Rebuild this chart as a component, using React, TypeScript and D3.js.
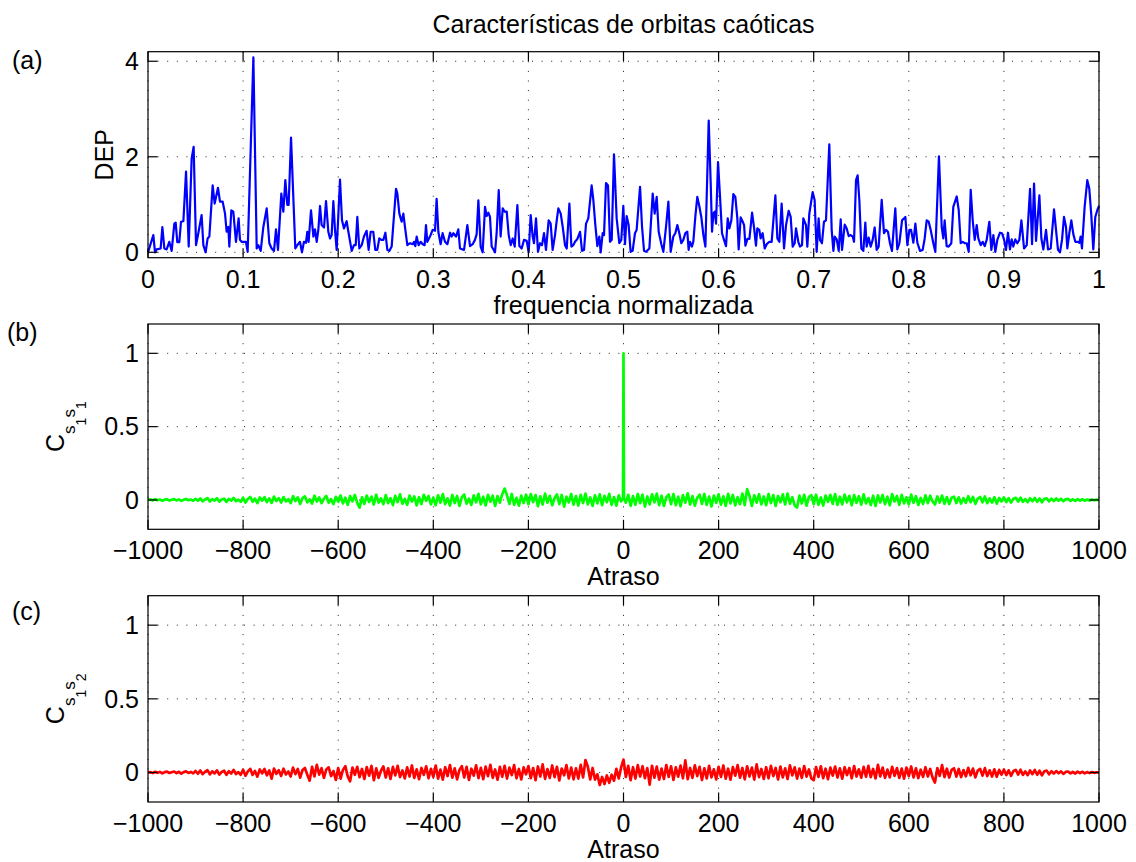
import React from 'react';
import * as d3 from 'd3';

const FONT = '"Liberation Sans", Arial, Helvetica, sans-serif';

// (a) Power spectral density: [normalized frequency, DEP]
const SPECTRUM: [number, number][] = [
  [0.0000, 0.00], [0.0056, 0.36], [0.0074, 0.00], [0.0091, 0.06], [0.0133, 0.08], [0.0151, 0.53], [0.0172, 0.08], [0.0196, 0.06], [0.0224, 0.22], [0.0249, 0.03],
  [0.0277, 0.60], [0.0291, 0.62], [0.0308, 0.21], [0.0329, 0.21], [0.0347, 0.64], [0.0372, 0.65], [0.0400, 1.69], [0.0428, 0.12], [0.0459, 1.96], [0.0480, 2.21],
  [0.0505, 0.15], [0.0529, 0.40], [0.0564, 0.78], [0.0582, 0.15], [0.0606, 0.00], [0.0627, 0.29], [0.0645, 0.33], [0.0680, 1.40], [0.0701, 1.02], [0.0736, 1.35],
  [0.0757, 1.06], [0.0785, 1.06], [0.0810, 0.81], [0.0827, 0.43], [0.0845, 0.53], [0.0855, 0.12], [0.0876, 0.88], [0.0897, 0.85], [0.0925, 0.22], [0.0953, 0.71],
  [0.0967, 0.26], [0.0985, 0.22], [0.1030, 0.22], [0.1048, 0.01], [0.1108, 4.08], [0.1143, 0.08], [0.1160, 0.15], [0.1185, 0.03], [0.1213, 0.53], [0.1248, 0.92],
  [0.1276, 0.19], [0.1300, 0.08], [0.1325, 0.03], [0.1346, 0.48], [0.1367, 0.05], [0.1402, 1.23], [0.1423, 0.85], [0.1444, 1.51], [0.1465, 0.99], [0.1479, 0.99],
  [0.1504, 2.40], [0.1549, 0.08], [0.1570, 0.15], [0.1598, 0.22], [0.1619, 0.00], [0.1640, 0.22], [0.1661, 0.20], [0.1675, 0.43], [0.1689, 0.22], [0.1714, 0.88],
  [0.1739, 0.33], [0.1756, 0.48], [0.1774, 0.22], [0.1791, 0.47], [0.1809, 0.97], [0.1826, 0.57], [0.1851, 0.52], [0.1872, 1.07], [0.1896, 0.43], [0.1914, 0.29],
  [0.1931, 0.36], [0.1949, 1.07], [0.1966, 0.48], [0.1984, 0.05], [0.2019, 1.52], [0.2040, 0.67], [0.2061, 0.50], [0.2089, 0.65], [0.2107, 0.43], [0.2142, 0.03],
  [0.2166, 0.15], [0.2184, 0.15], [0.2201, 0.74], [0.2222, 0.08], [0.2247, 0.15], [0.2271, 0.33], [0.2299, 0.45], [0.2320, 0.05], [0.2341, 0.43], [0.2369, 0.43],
  [0.2390, 0.05], [0.2411, 0.05], [0.2432, 0.29], [0.2454, 0.26], [0.2475, 0.26], [0.2496, 0.41], [0.2517, 0.05], [0.2538, 0.03], [0.2562, 0.12], [0.2608, 1.33],
  [0.2622, 1.23], [0.2643, 0.81], [0.2667, 0.64], [0.2685, 0.81], [0.2702, 0.53], [0.2727, 0.15], [0.2755, 0.19], [0.2783, 0.17], [0.2797, 0.22], [0.2811, 0.13],
  [0.2825, 0.33], [0.2846, 0.15], [0.2867, 0.22], [0.2888, 0.17], [0.2909, 0.15], [0.2923, 0.57], [0.2937, 0.22], [0.2965, 0.33], [0.2993, 0.47], [0.3018, 0.45],
  [0.3035, 1.12], [0.3053, 0.43], [0.3077, 0.17], [0.3098, 0.40], [0.3123, 0.22], [0.3148, 0.17], [0.3176, 0.41], [0.3193, 0.33], [0.3211, 0.40], [0.3239, 0.33],
  [0.3263, 0.48], [0.3281, 0.08], [0.3323, 0.05], [0.3358, 0.57], [0.3386, 0.13], [0.3414, 0.17], [0.3438, 0.26], [0.3456, 0.38], [0.3474, 1.09], [0.3498, 0.12],
  [0.3519, 0.00], [0.3544, 0.95], [0.3561, 0.76], [0.3579, 0.83], [0.3596, 0.74], [0.3614, 0.12], [0.3649, 0.00], [0.3666, 0.40], [0.3688, 1.30], [0.3708, 0.33],
  [0.3730, 0.92], [0.3751, 0.85], [0.3772, 0.85], [0.3793, 0.36], [0.3814, 0.15], [0.3835, 0.29], [0.3856, 0.12], [0.3884, 0.99], [0.3905, 0.13], [0.3929, 0.08],
  [0.3954, 0.26], [0.3982, 0.24], [0.4003, 0.00], [0.4024, 0.78], [0.4045, 0.33], [0.4059, 0.19], [0.4080, 0.71], [0.4101, 0.01], [0.4122, 0.19], [0.4143, 0.15],
  [0.4164, 0.40], [0.4185, 0.05], [0.4213, 0.67], [0.4234, 0.60], [0.4255, 0.05], [0.4280, 0.36], [0.4298, 0.67], [0.4315, 0.92], [0.4340, 0.81], [0.4361, 0.53],
  [0.4385, 0.15], [0.4403, 0.08], [0.4431, 1.02], [0.4452, 0.12], [0.4473, 0.15], [0.4490, 0.22], [0.4515, 0.28], [0.4543, 0.43], [0.4564, 0.03], [0.4585, 0.05],
  [0.4606, 0.60], [0.4630, 0.71], [0.4665, 1.40], [0.4683, 1.09], [0.4704, 0.57], [0.4725, 0.13], [0.4746, 0.33], [0.4760, 0.00], [0.4781, 0.40], [0.4795, 0.36],
  [0.4816, 1.45], [0.4837, 1.40], [0.4858, 0.22], [0.4876, 0.26], [0.4900, 2.05], [0.4928, 0.71], [0.4956, 0.19], [0.4977, 0.26], [0.4998, 0.97], [0.5016, 0.17],
  [0.5033, 0.76], [0.5054, 0.57], [0.5075, 0.01], [0.5096, 0.03], [0.5121, 0.40], [0.5138, 0.47], [0.5174, 1.37], [0.5195, 0.53], [0.5216, 0.03], [0.5237, 0.01],
  [0.5272, 0.08], [0.5307, 1.23], [0.5328, 0.81], [0.5349, 1.16], [0.5370, 0.43], [0.5398, 0.17], [0.5419, 0.01], [0.5447, 0.53], [0.5472, 1.06], [0.5496, 0.01],
  [0.5524, 0.33], [0.5545, 0.40], [0.5566, 0.57], [0.5587, 0.40], [0.5608, 0.19], [0.5629, 0.26], [0.5650, 0.40], [0.5671, 0.43], [0.5685, 0.05], [0.5699, 0.22],
  [0.5720, 0.12], [0.5734, 0.22], [0.5755, 0.74], [0.5776, 1.16], [0.5797, 0.97], [0.5818, 0.74], [0.5840, 0.36], [0.5861, 0.12], [0.5896, 2.76], [0.5917, 1.44],
  [0.5931, 0.43], [0.5945, 0.81], [0.5959, 0.85], [0.5973, 0.60], [0.5994, 1.89], [0.6015, 1.16], [0.6036, 0.40], [0.6057, 0.26], [0.6078, 0.13], [0.6096, 0.71],
  [0.6113, 0.50], [0.6134, 0.67], [0.6155, 1.22], [0.6176, 1.16], [0.6197, 0.71], [0.6211, 0.06], [0.6232, 0.73], [0.6254, 0.64], [0.6268, 0.57], [0.6282, 0.14],
  [0.6303, 0.28], [0.6324, 0.28], [0.6352, 0.83], [0.6372, 0.53], [0.6393, 0.14], [0.6407, 0.50], [0.6428, 0.47], [0.6442, 0.29], [0.6463, 0.40], [0.6485, 0.08],
  [0.6506, 0.17], [0.6534, 0.22], [0.6558, 0.22], [0.6597, 1.19], [0.6618, 0.29], [0.6639, 0.22], [0.6663, 1.02], [0.6688, 0.08], [0.6709, 0.57], [0.6737, 0.87],
  [0.6758, 0.74], [0.6779, 0.12], [0.6800, 0.19], [0.6814, 0.50], [0.6838, 0.22], [0.6856, 0.12], [0.6877, 0.15], [0.6891, 0.71], [0.6919, 0.57], [0.6933, 0.12],
  [0.6954, 0.81], [0.6989, 1.26], [0.7010, 1.09], [0.7031, 0.01], [0.7052, 0.71], [0.7066, 0.26], [0.7087, 0.19], [0.7108, 0.64], [0.7129, 0.67], [0.7164, 2.26],
  [0.7189, 0.47], [0.7207, 0.03], [0.7221, 0.33], [0.7242, 0.27], [0.7263, 0.03], [0.7284, 0.69], [0.7298, 0.05], [0.7326, 0.58], [0.7347, 0.50], [0.7368, 0.34],
  [0.7389, 0.36], [0.7410, 0.33], [0.7424, 0.22], [0.7445, 1.51], [0.7462, 1.61], [0.7480, 1.09], [0.7501, 0.08], [0.7522, 0.03], [0.7543, 0.62], [0.7557, 0.12],
  [0.7578, 0.31], [0.7599, 0.12], [0.7620, 0.26], [0.7641, 0.52], [0.7662, 0.05], [0.7683, 0.12], [0.7715, 1.10], [0.7739, 0.40], [0.7760, 0.47], [0.7781, 0.43],
  [0.7802, 0.19], [0.7823, 0.03], [0.7858, 0.92], [0.7879, 0.06], [0.7901, 0.19], [0.7929, 0.67], [0.7950, 0.71], [0.7964, 0.74], [0.7985, 0.15], [0.8006, 0.47],
  [0.8024, 0.47], [0.8048, 0.20], [0.8069, 0.60], [0.8090, 0.20], [0.8118, 0.03], [0.8146, 0.05], [0.8167, 0.29], [0.8188, 0.67], [0.8209, 0.64], [0.8230, 0.47],
  [0.8258, 0.19], [0.8279, 0.01], [0.8317, 2.01], [0.8346, 0.53], [0.8363, 0.29], [0.8377, 0.67], [0.8398, 0.13], [0.8419, 0.12], [0.8447, 0.19], [0.8468, 0.95],
  [0.8504, 1.17], [0.8525, 0.88], [0.8546, 0.19], [0.8567, 0.22], [0.8588, 0.19], [0.8609, 0.19], [0.8630, 0.01], [0.8651, 1.31], [0.8672, 0.67], [0.8693, 0.26],
  [0.8714, 0.57], [0.8731, 0.29], [0.8756, 0.15], [0.8777, 0.22], [0.8798, 0.13], [0.8819, 0.26], [0.8847, 0.64], [0.8868, 0.05], [0.8889, 0.36], [0.8910, 0.01],
  [0.8931, 0.26], [0.8959, 0.41], [0.8980, 0.40], [0.9001, 0.27], [0.9022, 0.05], [0.9043, 0.41], [0.9064, 0.06], [0.9082, 0.27], [0.9099, 0.12], [0.9120, 0.27],
  [0.9141, 0.19], [0.9162, 0.26], [0.9184, 0.67], [0.9212, 0.08], [0.9240, 0.15], [0.9275, 1.33], [0.9296, 0.17], [0.9317, 1.44], [0.9338, 0.24], [0.9373, 1.19],
  [0.9394, 0.29], [0.9415, 0.06], [0.9443, 0.47], [0.9464, 0.06], [0.9492, 0.08], [0.9527, 0.90], [0.9548, 0.47], [0.9569, 0.05], [0.9590, 0.00], [0.9611, 0.26],
  [0.9632, 0.74], [0.9653, 0.53], [0.9667, 0.08], [0.9688, 0.40], [0.9709, 0.67], [0.9730, 0.38], [0.9751, 0.22], [0.9772, 0.22], [0.9793, 0.20], [0.9807, 0.33],
  [0.9821, 0.08], [0.9849, 0.95], [0.9877, 1.51], [0.9898, 1.33], [0.9919, 0.78], [0.9940, 0.06], [0.9961, 0.74], [0.9982, 0.88], [1.0000, 0.97],
];

const FREQ_TICKS = [0, 0.1, 0.2, 0.3, 0.4, 0.5, 0.6, 0.7, 0.8, 0.9, 1];
const DEP_TICKS = [0, 2, 4];

// (b), (c) correlation sequences sampled every LAG_STEP lags from LAG_START
const LAG_START = -1000;
const LAG_STEP = 5;

const ACF_S1S1 = [
  0.000, 0.004, -0.003, 0.006, -0.002, 0.003, -0.005, 0.002, 0.005, -0.004, 0.001, 0.006, -0.003, 0.004, -0.006, 0.002, 0.007, -0.002, 0.003, -0.005,
  0.008, -0.006, 0.011, -0.009, 0.004, 0.013, -0.010, 0.006, -0.004, 0.012, -0.011, 0.003, 0.009, -0.013, 0.007, -0.005, 0.014, -0.008, 0.002, -0.012,
  0.015, -0.018, 0.006, 0.021, -0.012, 0.009, -0.022, 0.017, -0.004, 0.019, -0.015, 0.011, -0.020, 0.023, -0.007, 0.012, -0.017, 0.020, -0.010, 0.005,
  -0.021, 0.026, -0.008, 0.018, -0.027, 0.013, 0.024, -0.016, 0.004, -0.025, 0.029, -0.011, 0.017, -0.022, 0.009, 0.027, -0.019, 0.006, -0.028, 0.021,
  -0.012, 0.031, -0.024, 0.015, -0.033, 0.026, -0.009, 0.034, -0.020, -0.052, 0.018, -0.027, 0.030, -0.014, 0.023, -0.031, 0.036, -0.018, 0.010, -0.029,
  0.033, -0.021, 0.012, -0.035, 0.028, -0.015, 0.038, -0.026, 0.007, -0.033, 0.030, -0.011, 0.024, -0.037, 0.019, -0.028, 0.035, -0.006, 0.027, -0.030,
  0.016, -0.036, 0.032, -0.019, 0.040, -0.028, 0.011, -0.038, 0.034, -0.022, 0.027, -0.041, 0.018, 0.037, -0.025, 0.009, -0.034, 0.031, -0.016, 0.042,
  -0.030, 0.022, -0.037, 0.035, -0.012, 0.029, -0.040, 0.026, -0.018, 0.039, 0.078, 0.031, -0.027, 0.041, -0.033, 0.015, -0.039, 0.030, -0.021, 0.036,
  -0.028, 0.040, -0.014, 0.033, -0.042, 0.025, -0.031, 0.043, -0.019, 0.028, -0.036, 0.012, 0.038, -0.029, 0.034, -0.045, 0.022, -0.017, 0.041, -0.032,
  0.026, -0.038, 0.035, -0.021, 0.044, -0.030, 0.017, -0.041, 0.032, -0.024, 0.039, -0.035, 0.028, -0.015, 0.042, -0.033, 0.020, -0.039, 0.031, -0.010,
  1.000, -0.018, 0.035, -0.040, 0.027, -0.033, 0.041, -0.022, 0.036, -0.045, 0.024, -0.030, 0.038, -0.016, 0.043, -0.035, 0.029, -0.041, 0.019, 0.037,
  -0.029, 0.040, -0.036, 0.022, -0.043, 0.033, -0.018, 0.045, -0.031, 0.026, -0.039, 0.014, 0.036, -0.027, 0.041, -0.034, 0.023, -0.044, 0.030, -0.020,
  0.038, -0.032, 0.025, -0.040, 0.042, -0.023, 0.034, -0.037, 0.019, -0.029, 0.044, -0.035, 0.074, 0.028, -0.041, 0.032, -0.018, 0.039, -0.030, 0.024,
  -0.036, 0.041, -0.022, 0.033, -0.040, 0.027, -0.015, 0.038, -0.031, 0.044, -0.026, 0.019, -0.037, -0.052, 0.030, -0.024, 0.035, -0.039, 0.021, 0.032,
  -0.028, 0.036, -0.033, 0.017, -0.038, 0.030, -0.012, 0.035, -0.027, 0.040, -0.034, 0.022, -0.030, 0.037, -0.016, 0.028, -0.036, 0.033, -0.020, 0.026,
  -0.032, 0.038, -0.024, 0.013, -0.035, 0.029, -0.041, 0.031, -0.017, 0.034, -0.029, 0.022, -0.036, 0.040, -0.011, 0.027, -0.033, 0.035, -0.023, 0.018,
  -0.030, 0.037, -0.019, 0.026, -0.034, 0.014, -0.027, 0.032, -0.022, 0.029, -0.010, -0.031, 0.024, -0.018, 0.030, -0.026, 0.020, -0.028, 0.015, 0.023,
  -0.021, 0.018, -0.024, 0.012, -0.019, 0.026, -0.015, 0.021, -0.027, 0.009, 0.020, -0.016, 0.024, -0.022, 0.011, -0.018, 0.019, -0.025, 0.014, -0.010,
  0.017, -0.014, 0.012, -0.018, 0.008, 0.015, -0.011, 0.016, -0.013, 0.006, -0.015, 0.012, -0.009, 0.014, -0.012, 0.010, -0.016, 0.008, 0.011, -0.010,
  0.009, -0.007, 0.010, -0.005, 0.008, -0.009, 0.004, 0.007, -0.006, 0.005, -0.007, 0.006, -0.004, 0.005, -0.005, 0.003, -0.004, 0.003, -0.002, 0.002,
  0.000,
];

// Autocorrelation right around zero lag, at single-lag resolution
const ACF_PEAK_LAGS = [-1, 0, 1];
const ACF_PEAK_VALUES = [0.012, 1.0, 0.010];

const CCF_S1S2 = [
  0.000, 0.003, -0.004, 0.005, -0.002, 0.004, -0.006, 0.003, 0.006, -0.003, 0.002, 0.007, -0.004, 0.005, -0.007, 0.003, 0.008, -0.003, 0.004, -0.006,
  0.010, -0.008, 0.014, -0.011, 0.005, 0.016, -0.013, 0.008, -0.006, 0.015, -0.014, 0.004, 0.012, -0.016, 0.009, -0.007, 0.018, -0.010, 0.003, -0.015,
  0.019, -0.022, 0.008, 0.025, -0.016, 0.011, -0.028, 0.021, -0.006, 0.024, -0.019, 0.014, -0.042, 0.027, -0.009, 0.016, -0.023, 0.026, -0.013, 0.007,
  -0.027, 0.033, -0.011, 0.024, -0.035, 0.017, 0.031, -0.015, -0.055, 0.038, -0.026, 0.052, -0.014, 0.029, -0.037, 0.021, 0.035, -0.024, 0.010, -0.050,
  0.030, -0.041, 0.018, 0.043, -0.026, -0.060, 0.034, -0.015, 0.039, -0.032, 0.024, -0.044, 0.037, -0.021, 0.045, -0.052, 0.028, -0.036, 0.012, 0.041,
  -0.034, 0.029, -0.043, 0.038, -0.019, 0.046, -0.031, 0.014, -0.040, 0.035, -0.027, 0.048, -0.037, 0.022, -0.045, 0.031, -0.016, 0.042, -0.039, 0.025,
  -0.030, 0.047, -0.041, 0.020, -0.048, 0.036, -0.024, 0.051, -0.035, 0.028, -0.046, 0.018, 0.043, -0.033, 0.039, -0.050, 0.026, -0.021, 0.049, -0.038,
  0.032, -0.045, 0.040, -0.025, 0.052, -0.036, 0.021, -0.049, 0.038, -0.029, 0.046, -0.041, 0.033, -0.018, 0.050, -0.039, 0.024, -0.047, 0.035, -0.012,
  0.044, -0.038, 0.030, -0.052, 0.041, -0.027, 0.055, -0.043, 0.023, -0.036, 0.048, -0.031, 0.039, -0.054, 0.027, -0.019, 0.050, -0.040, 0.034, -0.046,
  0.029, -0.041, 0.052, -0.033, 0.085, 0.040, -0.047, 0.031, -0.048, -0.012, -0.085, -0.030, -0.078, -0.020, -0.070, -0.015, -0.055, 0.025, -0.040, 0.035,
  0.088, -0.030, 0.045, -0.052, 0.036, -0.041, 0.050, -0.027, 0.043, -0.038, 0.030, -0.082, 0.046, -0.035, 0.040, -0.048, 0.027, -0.044, 0.051, -0.030,
  0.042, -0.050, 0.035, -0.028, 0.047, -0.039, 0.082, -0.045, 0.031, -0.036, 0.049, -0.024, 0.038, -0.051, 0.029, -0.040, 0.045, -0.033, 0.022, -0.047,
  0.039, -0.030, 0.048, -0.042, 0.026, -0.049, 0.037, -0.021, 0.050, -0.035, 0.031, -0.046, 0.042, -0.027, 0.034, -0.048, 0.055, -0.031, 0.024, -0.043,
  0.036, -0.039, 0.045, -0.024, 0.031, -0.047, 0.040, -0.033, 0.028, -0.044, 0.049, -0.019, 0.035, -0.041, 0.027, -0.036, 0.044, -0.028, 0.021, -0.040,
  -0.052, 0.037, -0.030, 0.042, -0.038, 0.026, -0.045, 0.033, -0.021, 0.040, -0.034, 0.029, -0.042, 0.036, -0.018, 0.031, -0.039, 0.044, -0.027, 0.022,
  -0.035, 0.038, -0.029, 0.045, -0.031, 0.024, -0.040, 0.052, -0.026, 0.033, -0.037, 0.020, -0.032, 0.039, -0.023, 0.030, -0.036, 0.027, -0.041, 0.034,
  -0.025, 0.041, -0.033, 0.028, -0.038, 0.019, -0.030, 0.036, -0.027, 0.024, -0.035, -0.068, 0.030, -0.022, 0.050, -0.031, 0.026, -0.034, 0.018, 0.029,
  -0.028, 0.024, -0.031, 0.017, -0.026, 0.032, -0.019, 0.027, -0.033, 0.013, 0.025, -0.021, 0.030, -0.024, 0.015, -0.027, 0.022, -0.029, 0.018, -0.014,
  0.020, -0.017, 0.015, -0.022, 0.010, 0.018, -0.014, 0.019, -0.016, 0.008, -0.018, 0.014, -0.011, 0.017, -0.015, 0.012, -0.019, 0.009, 0.013, -0.012,
  0.009, -0.007, 0.010, -0.005, 0.008, -0.009, 0.004, 0.007, -0.006, 0.005, -0.007, 0.006, -0.004, 0.005, -0.005, 0.003, -0.004, 0.003, -0.002, 0.002,
  0.000,
];

const LAG_TICKS = [-1000, -800, -600, -400, -200, 0, 200, 400, 600, 800, 1000];
const CORR_TICKS = [0, 0.5, 1];

const W = 1136;
const H = 862;
const LEFT = 148;
const RIGHT = 1099;
const TICK_LEN = 9.5;
const FS = 25;

const fmt = d3.format('~g');

type PanelProps = {
  top: number;
  bottom: number;
  xDomain: [number, number];
  yDomain: [number, number];
  xTicks: number[];
  yTicks: number[];
  points: [number, number][];
  color: string;
  width: number;
  xLabel: string;
  yLabel: React.ReactNode;
  letter: string;
  letterPos: [number, number];
};

function Panel(p: PanelProps) {
  const x = d3.scaleLinear().domain(p.xDomain).range([LEFT, RIGHT]);
  const y = d3.scaleLinear().domain(p.yDomain).range([p.bottom, p.top]);
  const line = d3
    .line<[number, number]>()
    .x((d) => x(d[0]))
    .y((d) => y(d[1]));
  const grid = { stroke: '#222', strokeWidth: 1, strokeDasharray: '1 8.6' };
  return (
    <g>
      {p.xTicks.map((t) => (
        <line key={'gx' + t} x1={x(t)} x2={x(t)} y1={p.top} y2={p.bottom} {...grid} />
      ))}
      {p.yTicks.map((t) => (
        <line key={'gy' + t} x1={LEFT} x2={RIGHT} y1={y(t)} y2={y(t)} {...grid} />
      ))}
      <path
        d={line(p.points) || ''}
        fill="none"
        stroke={p.color}
        strokeWidth={p.width}
        strokeLinejoin="round"
      />
      <rect
        x={LEFT}
        y={p.top}
        width={RIGHT - LEFT}
        height={p.bottom - p.top}
        fill="none"
        stroke="#000"
        strokeWidth={1.2}
      />
      {p.xTicks.map((t) => (
        <g key={'tx' + t}>
          <line x1={x(t)} x2={x(t)} y1={p.bottom} y2={p.bottom - TICK_LEN} stroke="#000" strokeWidth={1.2} />
          <line x1={x(t)} x2={x(t)} y1={p.top} y2={p.top + TICK_LEN} stroke="#000" strokeWidth={1.2} />
          <text x={x(t)} y={p.bottom + 30} textAnchor="middle" fontSize={FS}>
            {fmt(t)}
          </text>
        </g>
      ))}
      {p.yTicks.map((t) => (
        <g key={'ty' + t}>
          <line x1={LEFT} x2={LEFT + TICK_LEN} y1={y(t)} y2={y(t)} stroke="#000" strokeWidth={1.2} />
          <line x1={RIGHT} x2={RIGHT - TICK_LEN} y1={y(t)} y2={y(t)} stroke="#000" strokeWidth={1.2} />
          <text x={LEFT - 9} y={y(t)} dy="0.35em" textAnchor="end" fontSize={FS}>
            {fmt(t)}
          </text>
        </g>
      ))}
      <text x={(LEFT + RIGHT) / 2} y={p.bottom + 56} textAnchor="middle" fontSize={FS}>
        {p.xLabel}
      </text>
      {p.yLabel}
      <text x={p.letterPos[0]} y={p.letterPos[1]} fontSize={FS}>
        {p.letter}
      </text>
    </g>
  );
}

function CorrLabel({ cx, cy, a, b }: { cx: number; cy: number; a: string; b: string }) {
  return (
    <text transform={`translate(${cx},${cy}) rotate(-90)`} textAnchor="middle" fontSize={FS}>
      C
      <tspan fontSize={17} dy={11}>s</tspan>
      <tspan fontSize={14} dy={11}>{a}</tspan>
      <tspan fontSize={17} dy={-11}>s</tspan>
      <tspan fontSize={14} dy={11}>{b}</tspan>
    </text>
  );
}

const lagPoints = (vals: number[]): [number, number][] =>
  vals.map((v, i) => [LAG_START + i * LAG_STEP, v]);

// Replace the lag-0 sample with the finer-resolution peak samples
const withPeak = (pts: [number, number][], lags: number[], vals: number[]): [number, number][] =>
  pts.flatMap((d) =>
    d[0] === 0 ? lags.map((l, i) => [l, vals[i]] as [number, number]) : [d]
  );

export default function App() {
  const panels = {
    a: { top: 51.7, bottom: 257.7 },
    b: { top: 324, bottom: 529.3 },
    c: { top: 595.7, bottom: 802 },
  };
  return (
    <svg
      width={W}
      height={H}
      viewBox={`0 0 ${W} ${H}`}
      style={{ position: 'absolute', left: 0, top: 0, background: '#fff', fontFamily: FONT }}
    >
      <rect width={W} height={H} fill="#fff" />
      <text x={(LEFT + RIGHT) / 2} y={33} textAnchor="middle" fontSize={FS}>
        Características de orbitas caóticas
      </text>
      <Panel
        {...panels.a}
        xDomain={[0, 1]}
        yDomain={[-0.113, 4.2]}
        xTicks={FREQ_TICKS}
        yTicks={DEP_TICKS}
        points={SPECTRUM}
        color="#0000ff"
        width={2.2}
        xLabel="frequencia normalizada"
        yLabel={
          <text
            transform={`translate(113,${(panels.a.top + panels.a.bottom) / 2}) rotate(-90)`}
            textAnchor="middle"
            fontSize={FS}
          >
            DEP
          </text>
        }
        letter="(a)"
        letterPos={[12, 69]}
      />
      <Panel
        {...panels.b}
        xDomain={[-1000, 1000]}
        yDomain={[-0.2, 1.2]}
        xTicks={LAG_TICKS}
        yTicks={CORR_TICKS}
        points={withPeak(lagPoints(ACF_S1S1), ACF_PEAK_LAGS, ACF_PEAK_VALUES)}
        color="#00ff00"
        width={2.7}
        xLabel="Atraso"
        yLabel={<CorrLabel cx={64} cy={(panels.b.top + panels.b.bottom) / 2} a="1" b="1" />}
        letter="(b)"
        letterPos={[7, 341]}
      />
      <Panel
        {...panels.c}
        xDomain={[-1000, 1000]}
        yDomain={[-0.2, 1.2]}
        xTicks={LAG_TICKS}
        yTicks={CORR_TICKS}
        points={lagPoints(CCF_S1S2)}
        color="#ff0000"
        width={2.7}
        xLabel="Atraso"
        yLabel={<CorrLabel cx={64} cy={(panels.c.top + panels.c.bottom) / 2} a="1" b="2" />}
        letter="(c)"
        letterPos={[12, 620]}
      />
    </svg>
  );
}
